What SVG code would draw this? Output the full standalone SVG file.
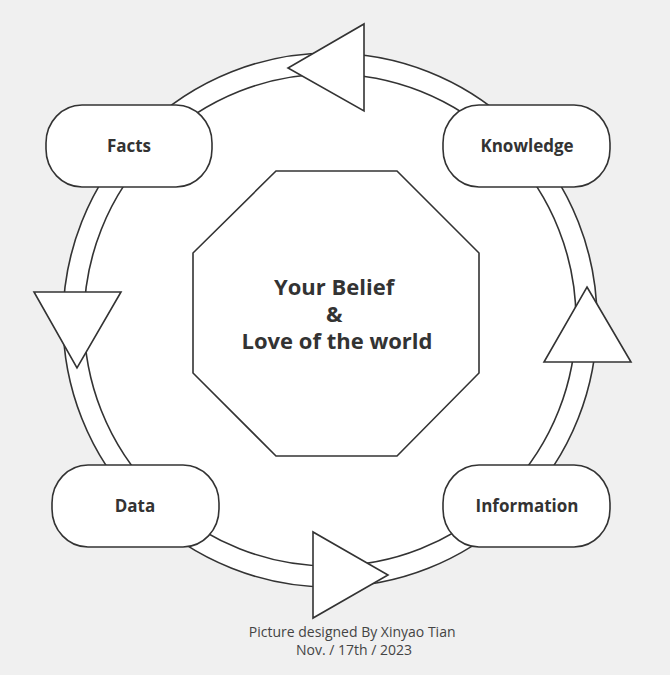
<svg xmlns="http://www.w3.org/2000/svg" width="670" height="675" viewBox="0 0 670 675">
  <style>
    .ln { fill: #ffffff; stroke: #333333; stroke-width: 1.6; }
    .lbl { font-family: "Open Sans", "Noto Sans", "DejaVu Sans", sans-serif; font-weight: bold; fill: #333333; text-anchor: middle; }
    .cap { font-family: "Open Sans", "Noto Sans", "DejaVu Sans", sans-serif; font-size: 14px; fill: #444444; text-anchor: middle; }
  </style>
  <rect x="0" y="0" width="670" height="675" fill="#f0f0f0"/>

  <!-- double ring -->
  <g id="ring">
    <circle class="ln" cx="330" cy="320" r="267"/>
    <circle class="ln" cx="330" cy="320" r="246"/>
  </g>

  <!-- cycle arrows -->
  <g id="connectors">
    <polygon class="ln" points="364,24 364,111 288,68"/>
    <polygon class="ln" points="34,292 121,292 77,368"/>
    <polygon class="ln" points="587,287 631,362 544,362"/>
    <polygon class="ln" points="313,532 313,618 388,575"/>
  </g>

  <g id="facts">
    <rect class="ln" x="46" y="105" width="166" height="82" rx="36" ry="38"/>
    <text class="lbl" x="129" y="152" font-size="17">Facts</text>
  </g>
  <g id="knowledge">
    <rect class="ln" x="443" y="105" width="167" height="82" rx="36" ry="38"/>
    <text class="lbl" x="527" y="152" font-size="17">Knowledge</text>
  </g>
  <g id="data">
    <rect class="ln" x="52" y="465" width="167" height="82" rx="36" ry="38"/>
    <text class="lbl" x="135" y="512" font-size="17">Data</text>
  </g>
  <g id="information">
    <rect class="ln" x="443" y="465" width="167" height="82" rx="36" ry="38"/>
    <text class="lbl" x="527" y="512" font-size="17">Information</text>
  </g>

  <g id="belief">
    <polygon class="ln" points="276,171 397,171 479,253 479,373 397,456 276,456 193,373 193,253"/>
    <text class="lbl" font-size="22">
      <tspan x="337" y="295">Your Belief</tspan>
      <tspan x="337" y="322">&amp;</tspan>
      <tspan x="337" y="349">Love of the world</tspan>
    </text>
  </g>

  <g id="caption">
    <text class="cap">
      <tspan x="354" y="637">Picture designed By Xinyao Tian</tspan>
      <tspan x="354" y="655">Nov. / 17th / 2023</tspan>
    </text>
  </g>
</svg>
